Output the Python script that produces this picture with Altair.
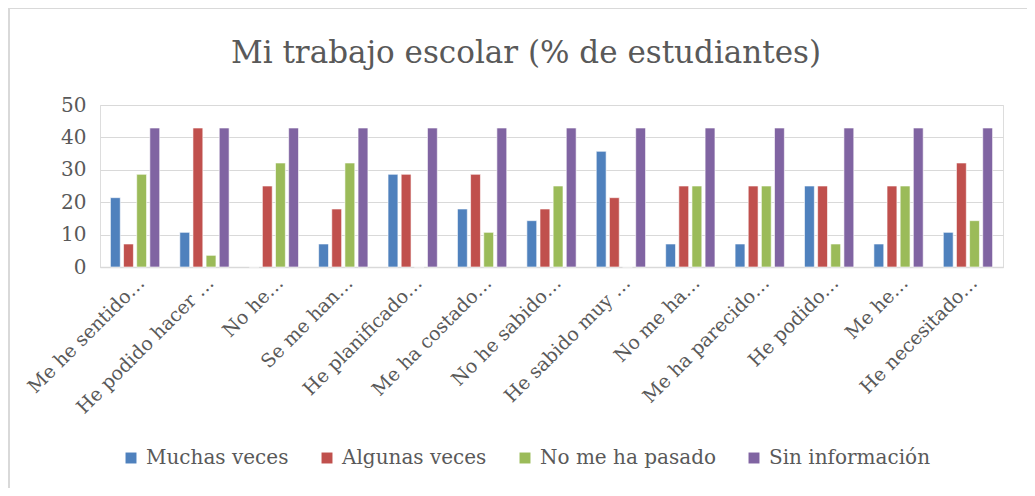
import altair as alt
import pandas as pd

categories = ["Me he sentido…", "He podido hacer …", "No he…", "Se me han…",
              "He planificado…", "Me ha costado…", "No he sabido…", "He sabido muy …",
              "No me ha…", "Me ha parecido…", "He podido…", "Me he…", "He necesitado…"]
series = ["Muchas veces", "Algunas veces", "No me ha pasado", "Sin información"]
muchas = [21.4, 10.7, 0, 7.1, 28.6, 17.9, 14.3, 35.7, 7.1, 7.1, 25.0, 7.1, 10.7]
algunas = [7.1, 42.9, 25.0, 17.9, 28.6, 28.6, 17.9, 21.4, 25.0, 25.0, 25.0, 25.0, 32.1]
no_pasado = [28.6, 3.6, 32.1, 32.1, 0, 10.7, 25.0, 0, 25.0, 25.0, 7.1, 25.0, 14.3]
sin_info = [42.9] * 13
colors = ["#4F81BD", "#C0504D", "#9BBB59", "#8064A2"]
title_text = "Mi trabajo escolar (% de estudiantes)"

rows = []
for i, c in enumerate(categories):
    for s, vals in zip(series, [muchas, algunas, no_pasado, sin_info]):
        rows.append({"cat": c, "serie": s, "valor": vals[i]})
df = pd.DataFrame(rows)

FONT = "DejaVu Serif"

bars = alt.Chart(df).mark_bar(stroke="white", strokeWidth=0.6).encode(
    x=alt.X("cat:N", sort=categories, title=None,
            scale=alt.Scale(paddingInner=0.29, paddingOuter=0.15),
            axis=alt.Axis(labelAngle=-45, labelFontSize=19, labelColor="#595959",
                          labelFont=FONT, ticks=False, domainColor="#d9d9d9",
                          domainWidth=1.5, labelPadding=6, labelLimit=300, grid=False)),
    xOffset=alt.XOffset("serie:N", sort=series,
                        scale=alt.Scale(paddingInner=0.25)),
    y=alt.Y("valor:Q", title=None,
            scale=alt.Scale(domain=[0, 50]),
            axis=alt.Axis(values=[0, 10, 20, 30, 40, 50], labelFontSize=20,
                          labelColor="#595959", labelFont=FONT, ticks=False,
                          domain=False, gridColor="#d9d9d9", gridWidth=1.2,
                          labelPadding=14)),
    color=alt.Color("serie:N", sort=series,
                    scale=alt.Scale(domain=series, range=colors),
                    legend=alt.Legend(title=None, orient="none", legendX=21, legendY=343,
                                      direction="horizontal", symbolType="square",
                                      symbolSize=120, symbolStrokeWidth=0,
                                      labelFontSize=20, labelFont=FONT,
                                      labelColor="#595959", columnPadding=28,
                                      labelOffset=5, labelLimit=300)),
)

one = pd.DataFrame({"k": [0]})
frame = alt.Chart(one).mark_rect(
    fill="transparent", stroke="#d9d9d9", strokeWidth=2
).encode(x=alt.value(-91), x2=alt.value(1200), y=alt.value(-97), y2=alt.value(600))

title = alt.Chart(one).mark_text(
    text=title_text, fontSize=31, font=FONT, color="#595959",
    align="center", baseline="middle"
).encode(x=alt.value(426), y=alt.value(-51))

chart = alt.layer(frame, title, bars).properties(
    width=903, height=162,
    padding={"left": 92, "top": 97, "right": 24, "bottom": 221},
    autosize=alt.AutoSizeParams(type="none"),
).configure_view(strokeWidth=0).configure(background="white")

chart.save("out.html", embed_options={"renderer": "svg", "actions": False})
